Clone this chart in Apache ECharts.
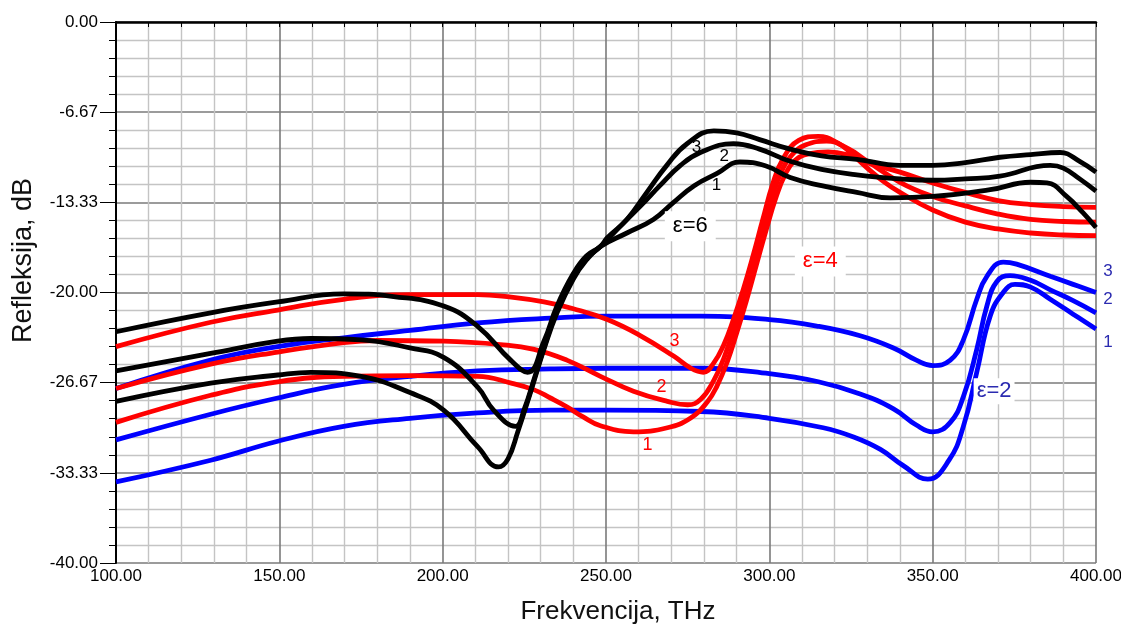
<!DOCTYPE html>
<html><head><meta charset="utf-8">
<script src="https://cdn.jsdelivr.net/npm/echarts@6.0.0/dist/echarts.min.js"></script>
<style>html,body{margin:0;padding:0;background:#fff}#c{width:1121px;height:629px}</style>
</head><body><div id="c"></div>
<script>
// ---- data (frequency THz, reflection dB) ----
const blue1 = [[100,-34.0],[129,-32.4],[149.5,-31.0],[169.7,-29.9],[190,-29.3],[210.7,-28.9],[233,-28.7],[250,-28.7],[279,-28.8],[300,-29.3],[316.5,-30.0],[326,-30.7],[334,-31.6],[341,-32.8],[348.5,-33.8],[355,-32.4],[359.4,-29.9],[363.5,-25.9],[367.6,-21.75],[371.6,-20.0],[375.2,-19.4],[380,-19.6],[386,-20.5],[393,-21.6],[400,-22.7]];
const blue2 = [[100,-30.9],[129,-29.0],[149.5,-27.8],[169.7,-26.8],[190,-26.2],[210.7,-25.8],[233,-25.65],[250,-25.6],[279,-25.6],[300,-26.0],[315,-26.6],[327.8,-27.5],[338,-28.6],[345,-29.8],[350,-30.3],[355.4,-29.6],[359.4,-27.7],[363.5,-24.2],[366.6,-21.0],[369.6,-19.2],[373.7,-18.75],[380,-19.1],[386,-19.8],[393,-20.6],[400,-21.5]];
const blue3 = [[100,-27.1],[129,-25.0],[149.5,-24.0],[169.7,-23.35],[190,-22.8],[210.7,-22.25],[233,-21.9],[250,-21.75],[279,-21.75],[300,-22.0],[315,-22.5],[327.8,-23.2],[338,-24.1],[345,-25.0],[350,-25.4],[355.4,-25.0],[359.4,-23.5],[363.5,-20.5],[366.6,-18.8],[371.6,-17.75],[375.7,-17.9],[386,-18.8],[393,-19.4],[400,-20.0]];

const red1 = [[100,-29.6],[129,-27.6],[149.5,-26.6],[169.7,-26.2],[190,-26.15],[210.7,-26.2],[221,-26.7],[228,-27.2],[233,-27.8],[238,-28.45],[243,-29.2],[248.3,-29.85],[258.4,-30.3],[268.8,-30.0],[275.8,-29.3],[281,-28.1],[284,-26.9],[287,-25.2],[290,-23.0],[293,-20.6],[296,-18.0],[299,-15.4],[302,-13.0],[305,-11.2],[308,-10.2],[312,-9.75],[318,-9.6],[325,-9.9],[330,-10.4],[340,-11.1],[350,-11.9],[360,-12.6],[370,-13.2],[380,-13.5],[390,-13.65],[400,-13.7]];
const red2 = [[100,-27.1],[129,-25.3],[149.5,-24.4],[169.7,-23.7],[180,-23.55],[200.3,-23.6],[217.7,-23.85],[228,-24.2],[238,-25.0],[248.3,-26.2],[258.4,-27.3],[268.8,-28.05],[275,-28.3],[279,-27.9],[283,-26.5],[286,-24.9],[289,-22.8],[292,-20.6],[295,-18.0],[298,-15.3],[301,-12.8],[304,-10.9],[307,-9.8],[311,-9.1],[317.5,-8.8],[324,-9.35],[330,-10.3],[340,-11.85],[350,-12.9],[360,-13.6],[370,-14.2],[380,-14.6],[390,-14.75],[400,-14.8]];
const red3 = [[100,-24.0],[129,-22.2],[149.5,-21.3],[169.7,-20.5],[190,-20.15],[210.7,-20.15],[221,-20.35],[231,-20.7],[240,-21.2],[250.4,-22.0],[260.6,-23.2],[270.7,-24.7],[276,-25.6],[279.8,-25.9],[283,-25.2],[286,-23.9],[289,-22.0],[292,-19.8],[295,-17.3],[298,-14.6],[301,-12.0],[304,-10.2],[309,-8.75],[315,-8.45],[321,-8.95],[325,-9.7],[330,-10.8],[335,-11.8],[340,-12.6],[350,-13.9],[360,-14.8],[370,-15.3],[380,-15.6],[390,-15.75],[400,-15.8]];

const black1 = [[100,-28.05],[129,-26.7],[149.5,-26.1],[159.6,-25.9],[175,-26.2],[190,-27.4],[200.3,-28.7],[210.7,-31.4],[217.1,-32.9],[220,-32.3],[223,-30.3],[227,-27.3],[231,-24.2],[235,-21.5],[240,-19.0],[244,-17.6],[248.3,-16.6],[256.4,-15.6],[264.5,-14.6],[270.6,-13.35],[277,-12.1],[284,-11.2],[291,-10.35],[299,-10.65],[306.4,-11.5],[316,-12.1],[326.8,-12.6],[337,-13.0],[350,-12.9],[367.6,-12.4],[380,-11.85],[385,-11.9],[391,-12.9],[396,-14.1],[400,-15.2]];
const black2 = [[100,-25.8],[129,-24.5],[149.5,-23.6],[159.6,-23.4],[175,-23.5],[190,-24.1],[200.3,-24.8],[210.7,-27.0],[215.6,-28.7],[222.3,-29.9],[225,-28.6],[228,-26.4],[231,-24.1],[235,-21.3],[240,-18.8],[244,-17.5],[248.3,-16.6],[255.4,-14.85],[260.6,-13.6],[266.5,-12.1],[272.8,-10.6],[278.9,-9.65],[289,-9.0],[297,-9.4],[306.4,-10.3],[316,-10.9],[326.8,-11.3],[340,-11.6],[350,-11.7],[360,-11.6],[370.6,-11.4],[386,-10.6],[390,-10.8],[395,-11.6],[400,-12.5]];
const black3 = [[100,-22.9],[129,-21.5],[149.5,-20.7],[169.7,-20.1],[185,-20.3],[200.3,-21.0],[210.7,-22.5],[220.8,-25.0],[226,-25.9],[231,-23.6],[235,-21.0],[240,-18.6],[244,-17.3],[248.3,-16.6],[250.4,-15.95],[256.4,-14.6],[262.5,-12.6],[268.6,-10.6],[274.8,-9.0],[283,-8.05],[290,-8.2],[297,-8.7],[306.4,-9.4],[316,-9.9],[326.8,-10.15],[340,-10.6],[350,-10.6],[360,-10.4],[370.6,-10.0],[380,-9.8],[389,-9.65],[395,-10.3],[400,-11.1]];

const xTickLabels = ['100.00','150.00','200.00','250.00','300.00','350.00','400.00'];
const yTickLabels = ['-40.00','-33.33','-26.67','-20.00','-13.33','-6.67','0.00'];
const xTitle = 'Frekvencija, THz';
const yTitle = 'Refleksija, dB';

// annotation texts with their anchor in data units [THz, dB]
const notes = [
  ['3',[277.7,-9.26],'black'],['2',[286.2,-9.9],'black'],['1',[283.8,-12.1],'black'],['ε=6',[275.8,-15.1],'blackBig'],
  ['ε=4',[315.6,-17.7],'redBig'],['3',[271,-23.6],'red'],['2',[267,-27.0],'red'],['1',[262.7,-31.3],'red'],
  ['ε=2',[368.8,-27.3],'blueBig'],['3',[403.7,-18.4],'blue'],['2',[403.7,-20.5],'blue'],['1',[403.7,-23.7],'blue']
];

const FONT = 'Arial, "Liberation Sans", sans-serif';
const chart = echarts.init(document.getElementById('c'), null, {renderer:'canvas'});
const yStep = 40/6;

function line(name, data, color){
  return {name, type:'line', data, smooth:0.45, showSymbol:false, symbol:'none',
    lineStyle:{color, width:4.8}, itemStyle:{color}, emphasis:{disabled:true}, z:2, animation:false};
}

chart.setOption({
  animation:false,
  backgroundColor:'#ffffff',
  grid:{left:116, right:25, top:22, bottom:66, containLabel:false, outerBoundsMode:'none'},
  xAxis:{type:'value', min:100, max:400, interval:50,
    name:xTitle, nameLocation:'middle', nameGap:36,
    nameTextStyle:{fontFamily:FONT, fontSize:26, color:'#111', padding:[0,0,0,24]},
    axisLine:{show:true, lineStyle:{color:'#000', width:2.5}},
    axisTick:{show:true, length:5, lineStyle:{color:'#000', width:1}},
    minorTick:{show:true, splitNumber:5, length:5, lineStyle:{color:'#000', width:1}},
    axisLabel:{fontFamily:FONT, fontSize:17, color:'#000', margin:5,
      formatter:(v)=>xTickLabels[Math.round((v-100)/50)]},
    splitLine:{show:true, lineStyle:{color:'#7a7a7a', width:1.6}},
    minorSplitLine:{show:true, lineStyle:{color:'#c4c4c4', width:1.4}}
  },
  yAxis:{type:'value', min:-40, max:0, interval:yStep,
    name:yTitle, nameLocation:'middle', nameGap:79, nameRotate:90,
    nameTextStyle:{fontFamily:FONT, fontSize:27, color:'#111', padding:[0,0,0,64]},
    axisLine:{show:true, onZero:false, lineStyle:{color:'#000', width:2}},
    axisTick:{show:true, length:16, lineStyle:{color:'#000', width:1}},
    minorTick:{show:true, splitNumber:5, length:7, lineStyle:{color:'#000', width:1}},
    axisLabel:{fontFamily:FONT, fontSize:17, color:'#000', margin:18,
      formatter:(v)=>yTickLabels[Math.round((v+40)/yStep)]},
    splitLine:{show:true, lineStyle:{color:'#7a7a7a', width:1.6}},
    minorSplitLine:{show:true, lineStyle:{color:'#c4c4c4', width:1.4}}
  },
  series:[
    line('ε=2 1', blue1, '#0000ff'), line('ε=2 2', blue2, '#0000ff'), line('ε=2 3', blue3, '#0000ff'),
    line('ε=4 1', red1, '#ff0000'), line('ε=4 2', red2, '#ff0000'), line('ε=4 3', red3, '#ff0000'),
    line('ε=6 1', black1, '#000000'), line('ε=6 2', black2, '#000000'), line('ε=6 3', black3, '#000000')
  ]
});

const styles = {
  black:{fill:'#000', size:17, bg:null},
  blackBig:{fill:'#000', size:22, bg:'#fff', pad:[4,8,4,8]},
  red:{fill:'#ff0000', size:18, bg:null},
  redBig:{fill:'#ff0000', size:22, bg:'#fff', pad:[4,8,4,8]},
  blue:{fill:'#2b2bb0', size:17, bg:null},
  blueBig:{fill:'#2b2bb0', size:22, bg:'#fff', pad:[2,3,2,3]}
};
const graphics = notes.map(([t, pos, st])=>{
  const p = chart.convertToPixel({gridIndex:0}, pos);
  const s = styles[st];
  return {type:'text', x:p[0], y:p[1], z:10,
    style:{text:t, fill:s.fill, font:`${s.size}px ${FONT}`, align:'center', verticalAlign:'middle',
      backgroundColor:s.bg || undefined, padding:s.pad || 0}};
});
chart.setOption({graphic:graphics});
</script></body></html>
